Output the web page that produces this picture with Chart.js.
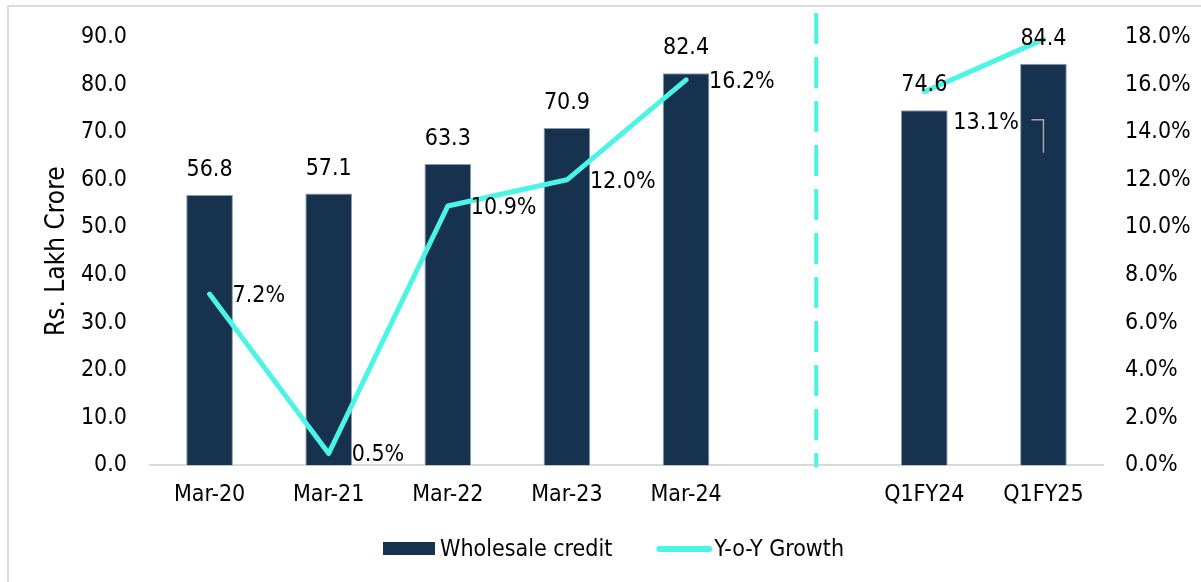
<!DOCTYPE html>
<html>
<head>
<meta charset="utf-8">
<script src="https://cdn.jsdelivr.net/npm/chart.js@4/dist/chart.umd.min.js"></script>
<style>
  html, body { margin: 0; padding: 0; background: #fff; }
  #wrap { position: relative; width: 1201px; height: 582px; overflow: hidden; }
  #frame { position: absolute; left: 7px; top: 5px; width: 1300px; height: 700px;
           border-left: 2px solid #dcdcdc; border-top: 2px solid #dcdcdc; }
  canvas { position: absolute; left: 0; top: 0; }
</style>
</head>
<body>
<div id="wrap">
  <div id="frame"></div>
  <canvas id="myChart" width="1201" height="582"></canvas>
</div>
<script>
const categories = ['Mar-20', 'Mar-21', 'Mar-22', 'Mar-23', 'Mar-24', '', 'Q1FY24', 'Q1FY25'];
const wholesaleCredit = [56.8, 57.1, 63.3, 70.9, 82.4, null, 74.6, 84.4];
const yoyGrowth = [7.2, 0.5, 10.9, 12.0, 16.2, null, 15.7, 17.9];
const growthLabels = ['7.2%', '0.5%', '10.9%', '12.0%', '16.2%', '', '13.1%', ''];
const leftTicks = [0, 10, 20, 30, 40, 50, 60, 70, 80, 90];
const rightTicks = [0, 2, 4, 6, 8, 10, 12, 14, 16, 18];

const FONT = "'DejaVu Sans Condensed', 'DejaVu Sans', sans-serif";
const NAVY = '#17324f';
const AQUA = '#4af5e6';

document.addEventListener('DOMContentLoaded', init, false);

function init(){
    Chart.defaults.font.family = FONT;
    Chart.defaults.color = '#000';
    createChart();
}

// value labels, divider and the legend drawn by hand
const extras = {
    id: 'extras',
    afterDatasetsDraw(chart) {
        const ctx = chart.ctx;
        const xs = chart.scales.x;
        const area = chart.chartArea;
        ctx.save();

        // dashed divider between annual and quarterly
        let divX = (xs.getPixelForValue(4) + xs.getPixelForValue(6)) / 2 + 11;
        ctx.strokeStyle = AQUA;
        ctx.lineWidth = 4;
        ctx.setLineDash([31, 13]);
        ctx.beginPath();
        ctx.moveTo(divX, 13);
        ctx.lineTo(divX, area.bottom + 2);
        ctx.stroke();
        ctx.setLineDash([]);

        ctx.font = '23px ' + FONT;
        ctx.fillStyle = '#000';

        // bar labels
        let barMeta = chart.getDatasetMeta(0);
        ctx.textAlign = 'center';
        ctx.textBaseline = 'middle';
        barMeta.data.forEach((bar, i) => {
            if (wholesaleCredit[i] == null) return;
            ctx.fillText(wholesaleCredit[i].toFixed(1), bar.x, bar.y - 25);
        });

        // growth labels
        let lineMeta = chart.getDatasetMeta(1);
        ctx.textAlign = 'left';
        lineMeta.data.forEach((pt, i) => {
            if (!growthLabels[i]) return;
            let dy = (i === 6) ? 31 : 2;
            let dx = (i === 6) ? 29 : 23;
            ctx.fillText(growthLabels[i], pt.x + dx, pt.y + dy);
        });

        // leftover leader line on the last bar
        let lastBar = barMeta.data[7];
        ctx.strokeStyle = '#a6a6a6';
        ctx.lineWidth = 1.5;
        ctx.beginPath();
        ctx.moveTo(lastBar.x - 12, lastBar.y + 56);
        ctx.lineTo(lastBar.x, lastBar.y + 56);
        ctx.lineTo(lastBar.x, lastBar.y + 89);
        ctx.stroke();

        // legend
        ctx.font = '23px ' + FONT;
        let t1 = 'Wholesale credit', t2 = 'Y-o-Y Growth';
        let w1 = ctx.measureText(t1).width, w2 = ctx.measureText(t2).width;
        let total = 52 + 5 + w1 + 44 + 56 + 2 + w2;
        let lx = chart.width / 2 + 13 - total / 2;
        let ly = 549;
        ctx.fillStyle = NAVY;
        ctx.fillRect(lx, ly - 7, 52, 13);
        ctx.fillStyle = '#000';
        ctx.fillText(t1, lx + 57, ly + 1);
        let l2 = lx + 57 + w1 + 44;
        ctx.strokeStyle = AQUA;
        ctx.lineWidth = 6;
        ctx.lineCap = 'round';
        ctx.beginPath();
        ctx.moveTo(l2 + 3, ly);
        ctx.lineTo(l2 + 53, ly);
        ctx.stroke();
        ctx.fillText(t2, l2 + 58, ly + 1);

        ctx.restore();
    }
};

function createChart(){
    const ctx = document.getElementById('myChart');
    const data = {
        labels: categories,
        datasets: [{
            type: 'bar',
            label: 'Wholesale credit',
            data: wholesaleCredit,
            backgroundColor: NAVY,
            borderColor: '#8a9bb0',
            borderWidth: 1,
            categoryPercentage: 0.8,
            barPercentage: 0.49,
            yAxisID: 'y',
            order: 2
        }, {
            type: 'line',
            label: 'Y-o-Y Growth',
            data: yoyGrowth,
            borderColor: AQUA,
            backgroundColor: AQUA,
            borderWidth: 5,
            borderCapStyle: 'round',
            borderJoinStyle: 'round',
            pointRadius: 0,
            tension: 0,
            spanGaps: false,
            yAxisID: 'y1',
            order: 1
        }]
    };
    const config = {
        type: 'bar',
        data: data,
        options: {
            responsive: false,
            animation: false,
            layout: { padding: { top: 37, bottom: 57, left: 0, right: 0 } },
            plugins: {
                legend: { display: false },
                tooltip: { enabled: false }
            },
            scales: {
                x: {
                    grid: { display: false, drawTicks: false },
                    border: { display: true, color: '#d9d9d9', width: 2 },
                    ticks: { font: { size: 23 }, padding: 16, color: '#000', maxRotation: 0, autoSkip: false }
                },
                y: {
                    position: 'left',
                    min: 0, max: 90,
                    afterBuildTicks: (s) => { s.ticks = leftTicks.map(v => ({ value: v })); },
                    afterFit: (s) => { s.width = 150; },
                    grid: { display: false, drawTicks: false },
                    border: { display: false },
                    ticks: { font: { size: 23 }, padding: 23, color: '#000', callback: v => v.toFixed(1) },
                    title: { display: true, text: 'Rs. Lakh Crore', font: { size: 26 }, color: '#000', padding: { top: 42, bottom: 0 } }
                },
                y1: {
                    position: 'right',
                    min: 0, max: 18,
                    afterBuildTicks: (s) => { s.ticks = rightTicks.map(v => ({ value: v })); },
                    afterFit: (s) => { s.width = 98; },
                    grid: { display: false, drawTicks: false },
                    border: { display: false },
                    ticks: { font: { size: 23 }, padding: 22, color: '#000', callback: v => v.toFixed(1) + '%' }
                }
            }
        },
        plugins: [extras]
    };
    new Chart(ctx, config);
}
</script>
</body>
</html>
